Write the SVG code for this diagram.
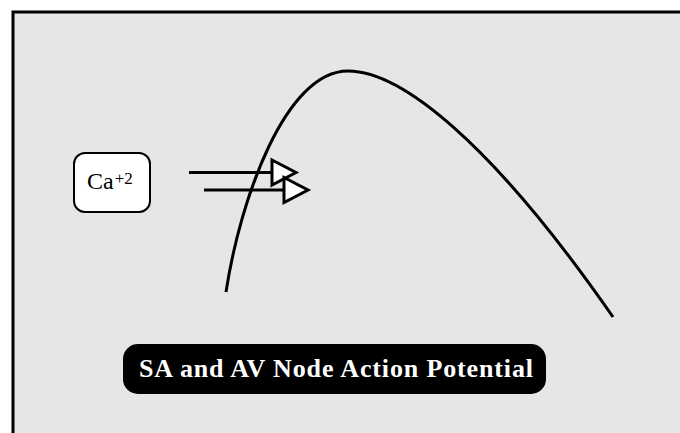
<svg xmlns="http://www.w3.org/2000/svg" width="680" height="433" viewBox="0 0 680 433">
<style>
.ln{stroke:#000;stroke-width:3;fill:none}
.tri{fill:#fff;stroke:#000;stroke-width:3;stroke-linejoin:miter}
.serif{font-family:"Liberation Serif","Times New Roman",serif}
</style>
<rect x="0" y="0" width="680" height="433" fill="#fff"/>
<g id="frame">
<rect x="13" y="12" width="700" height="460" fill="#e6e6e6" stroke="#000" stroke-width="3"/>
</g>
<g id="curve">
<path class="ln" d="M226,292 C240,200 285,71 348,71 C400,71 490,140 613,317"/>
</g>
<g id="ca">
<rect x="74" y="153" width="76" height="59" rx="11" ry="11" fill="#fff" stroke="#000" stroke-width="2"/>
<text class="serif" x="87" y="189" font-size="24" fill="#000">Ca<tspan font-size="17" dy="-5" dx="1">+2</tspan></text>
</g>
<g id="connectors">
<line class="ln" x1="189" y1="172.5" x2="272" y2="172.5"/>
<polygon class="tri" points="272,160 296,172.5 272,185"/>
<line class="ln" x1="204" y1="190" x2="284" y2="190"/>
<polygon class="tri" points="284,177.5 308,190 284,202.5"/>
</g>
<g id="title">
<rect x="123" y="344" width="423" height="50" rx="15" ry="15" fill="#000"/>
<text class="serif" x="139" y="377" font-size="26" font-weight="bold" fill="#fff" textLength="394" lengthAdjust="spacing">SA and AV Node Action Potential</text>
</g>
</svg>
